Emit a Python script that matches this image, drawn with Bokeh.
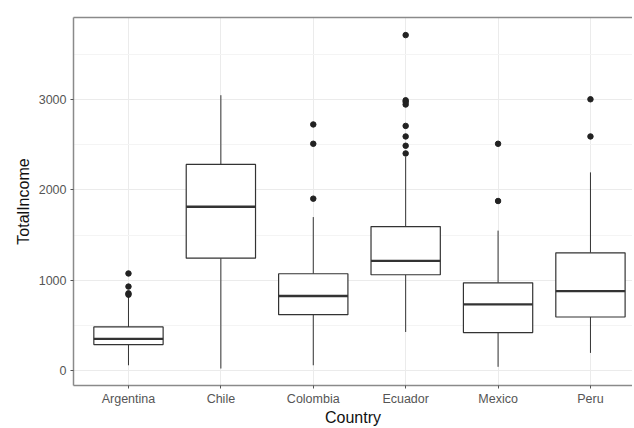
from bokeh.plotting import figure
from bokeh.models import Range1d, FixedTicker, LinearAxis
from bokeh.embed import file_html
from bokeh.resources import INLINE

countries = ["Argentina", "Chile", "Colombia", "Ecuador", "Mexico", "Peru"]
q1 = [287, 1245, 619, 1061, 420, 593]
median = [350, 1815, 825, 1215, 733, 880]
q3 = [483, 2283, 1072, 1595, 972, 1304]
lower_whisker = [58, 22, 58, 427, 41, 195]
upper_whisker = [814, 3050, 1700, 2368, 1550, 2195]
outliers = {
    "Argentina": [1075, 930, 855, 840],
    "Chile": [],
    "Colombia": [2726, 2512, 1904],
    "Ecuador": [3716, 2994, 2976, 2947, 2710, 2593, 2490, 2405],
    "Mexico": [2512, 1878],
    "Peru": [3005, 2593],
}
y_ticks = [0, 1000, 2000, 3000]
y_minor = [500, 1500, 2500, 3500]

xpos = [i + 1 for i in range(len(countries))]
half = 0.375

p = figure(width=632, height=428, output_backend="svg", toolbar_location=None,
           x_range=Range1d(0.405, 6.455), y_range=Range1d(-166, 3911),
           min_border_left=73, min_border_top=17, min_border_bottom=42, min_border_right=0)
p.outline_line_color = None
p.background_fill_color = "white"

GRID = "#EBEBEB"
TXT = "#555555"
BORDER = "#8A8A8A"

# grids
p.xgrid.ticker = FixedTicker(ticks=xpos)
p.xgrid.grid_line_color = GRID
p.xgrid.grid_line_width = 1
p.ygrid.ticker = FixedTicker(ticks=y_ticks, minor_ticks=y_minor)
p.ygrid.grid_line_color = GRID
p.ygrid.grid_line_width = 1
p.ygrid.minor_grid_line_color = "#F4F4F4"
p.ygrid.minor_grid_line_width = 1

# axes
p.xaxis.ticker = FixedTicker(ticks=xpos)
p.xaxis.major_label_overrides = {x: c for x, c in zip(xpos, countries)}
p.yaxis.ticker = FixedTicker(ticks=y_ticks)
for ax in (p.xaxis[0], p.yaxis[0]):
    ax.axis_line_color = BORDER
    ax.axis_line_width = 1.5
    ax.major_tick_line_color = "#555555"
    ax.major_tick_out = 3
    ax.major_tick_in = 0
    ax.minor_tick_line_color = None
    ax.major_label_text_color = TXT
    ax.major_label_text_font = "Liberation Sans"
    ax.major_label_text_font_size = "12.5px"
    ax.axis_label_text_font = "Liberation Sans"
    ax.axis_label_text_font_size = "16px"
    ax.axis_label_text_font_style = "normal"
    ax.axis_label_text_color = "#111111"
p.xaxis.axis_label = "Country"
p.yaxis.axis_label = "TotalIncome"
p.xaxis.major_label_standoff = 3
p.xaxis.axis_label_standoff = 0
p.yaxis.major_label_standoff = 4
p.yaxis.axis_label_standoff = 4

top_axis = LinearAxis(ticker=FixedTicker(ticks=[]), major_label_text_font_size="0px",
                      axis_line_color=BORDER, axis_line_width=1.5,
                      major_tick_line_color=None, minor_tick_line_color=None)
p.add_layout(top_axis, "above")

LINE = "#333333"
# whiskers
p.segment(x0=xpos, y0=lower_whisker, x1=xpos, y1=q1, line_color=LINE, line_width=1)
p.segment(x0=xpos, y0=q3, x1=xpos, y1=upper_whisker, line_color=LINE, line_width=1)
# boxes
p.vbar(x=xpos, width=2 * half, bottom=q1, top=q3, fill_color="white",
       line_color=LINE, line_width=1.2)
# medians
p.segment(x0=[x - half for x in xpos], y0=median, x1=[x + half for x in xpos], y1=median,
          line_color=LINE, line_width=2.4)
# outliers
ox, oy = [], []
for x, c in zip(xpos, countries):
    for v in outliers[c]:
        ox.append(x)
        oy.append(v)
p.scatter(ox, oy, size=5.5, fill_color="#222222", line_color="#222222")

open("out.html", "w").write(file_html(p, INLINE))
